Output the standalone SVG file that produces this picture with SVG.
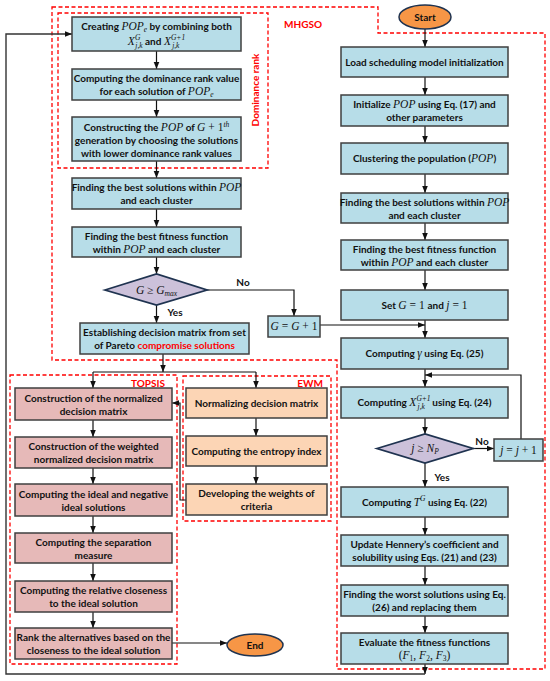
<svg xmlns="http://www.w3.org/2000/svg" width="550" height="681" viewBox="0 0 550 681">
<defs>
<marker id="a" viewBox="0 0 10 10" refX="10" refY="5" markerWidth="7" markerHeight="7" markerUnits="userSpaceOnUse" orient="auto"><path d="M0,1 L10,5 L0,9 z" fill="#111"/></marker>
<style>
.bl{fill:#b7dde8;stroke:#3f3f3f;stroke-width:1.5}
.pk{fill:#e6b9b8;stroke:#3f3f3f;stroke-width:1.5}
.or{fill:#fcd5b5;stroke:#3f3f3f;stroke-width:1.5}
.dm{fill:#ccc1da;stroke:#1f3350;stroke-width:1.8}
.el{fill:#f79646;stroke:#1f3350;stroke-width:1.5}
.dash{fill:none;stroke:#ff0000;stroke-width:1.3;stroke-dasharray:4,2.5}
.ln{fill:none;stroke:#111;stroke-width:1.2}
.t{font-family:Lato,"Liberation Sans",sans-serif;font-weight:bold;font-size:10px;fill:#111;text-anchor:middle}
.m{font-family:"Liberation Serif",serif;font-style:italic;font-weight:normal;font-size:11.5px}
.r{font-family:"Liberation Serif",serif;font-weight:normal;font-size:11.5px}
.s{font-size:7.5px}
.red{fill:#ff0000}
.lb{font-family:Lato,"Liberation Sans",sans-serif;font-weight:bold;font-size:10px;fill:#ff0000}
</style>
</defs>
<rect width="550" height="681" fill="#fff"/>

<!-- dashed regions -->
<g id="regions">
<path class="dash" d="M52,7 L378,7 L378,33 L545,33 L545,669 L337,669 L337,360 L52,360 Z"/>
<text class="lb" x="303" y="28" text-anchor="middle">MHGSO</text>
<rect class="dash" x="58" y="13" width="210" height="155"/>
<text class="lb" x="259" y="90" text-anchor="middle" transform="rotate(-90 259 90)">Dominance rank</text>
<rect class="dash" x="10" y="375" width="167" height="289"/>
<text class="lb" x="148" y="387" text-anchor="middle">TOPSIS</text>
<rect class="dash" x="183" y="376" width="148" height="145"/>
<text class="lb" x="310" y="387" text-anchor="middle">EWM</text>
</g>

<g id="connectors">
<line class="ln" x1="156.5" y1="51" x2="156.5" y2="69" marker-end="url(#a)"/>
<line class="ln" x1="156.5" y1="100" x2="156.5" y2="117" marker-end="url(#a)"/>
<line class="ln" x1="156.5" y1="161" x2="156.5" y2="178" marker-end="url(#a)"/>
<line class="ln" x1="156.5" y1="209" x2="156.5" y2="227" marker-end="url(#a)"/>
<line class="ln" x1="156.5" y1="257" x2="156.5" y2="274" marker-end="url(#a)"/>
<line class="ln" x1="156.5" y1="305" x2="156.5" y2="323" marker-end="url(#a)"/>
<polyline class="ln" points="207,290 294,290 294,316" marker-end="url(#a)"/>
<line class="ln" x1="320" y1="325" x2="425" y2="325" marker-end="url(#a)"/>
<line class="ln" x1="163" y1="354" x2="163" y2="372" marker-end="url(#a)"/>
<polyline class="ln" points="93,372 256,372"/>
<line class="ln" x1="93" y1="372" x2="93" y2="388" marker-end="url(#a)"/>
<line class="ln" x1="256" y1="372" x2="256" y2="388" marker-end="url(#a)"/>
<line class="ln" x1="93" y1="420" x2="93" y2="437" marker-end="url(#a)"/>
<line class="ln" x1="93" y1="468" x2="93" y2="484" marker-end="url(#a)"/>
<line class="ln" x1="93" y1="516" x2="93" y2="533" marker-end="url(#a)"/>
<line class="ln" x1="93" y1="563" x2="93" y2="581" marker-end="url(#a)"/>
<line class="ln" x1="93" y1="612" x2="93" y2="628" marker-end="url(#a)"/>
<line class="ln" x1="256" y1="418" x2="256" y2="436" marker-end="url(#a)"/>
<line class="ln" x1="256" y1="466" x2="256" y2="484" marker-end="url(#a)"/>
<polyline class="ln" points="186,500 180,500 180,403 172,403" marker-end="url(#a)"/>
<line class="ln" x1="172" y1="643" x2="227" y2="643" marker-end="url(#a)"/>
<line class="ln" x1="425" y1="29" x2="425" y2="47" marker-end="url(#a)"/>
<line class="ln" x1="425" y1="77" x2="425" y2="95" marker-end="url(#a)"/>
<line class="ln" x1="425" y1="126" x2="425" y2="143" marker-end="url(#a)"/>
<line class="ln" x1="425" y1="174" x2="425" y2="193" marker-end="url(#a)"/>
<line class="ln" x1="425" y1="223" x2="425" y2="240" marker-end="url(#a)"/>
<line class="ln" x1="425" y1="270" x2="425" y2="290" marker-end="url(#a)"/>
<line class="ln" x1="425" y1="320" x2="425" y2="338" marker-end="url(#a)"/>
<line class="ln" x1="425" y1="369" x2="425" y2="387" marker-end="url(#a)"/>
<polyline class="ln" points="521,439 521,375 425,375" marker-end="url(#a)"/>
<line class="ln" x1="425" y1="418" x2="425" y2="434" marker-end="url(#a)"/>
<line class="ln" x1="473" y1="448.5" x2="494" y2="448.5" marker-end="url(#a)"/>
<line class="ln" x1="425" y1="463" x2="425" y2="487" marker-end="url(#a)"/>
<line class="ln" x1="425" y1="517" x2="425" y2="535" marker-end="url(#a)"/>
<line class="ln" x1="425" y1="566" x2="425" y2="585" marker-end="url(#a)"/>
<line class="ln" x1="425" y1="616" x2="425" y2="633" marker-end="url(#a)"/>
<line class="ln" x1="425" y1="664" x2="425" y2="674" marker-end="url(#a)"/>
<polyline class="ln" points="425,674 6,674 6,34 72,34" marker-end="url(#a)" style="stroke:#333;stroke-width:1.4"/>
<text class="t" x="175" y="316">Yes</text>
<text class="t" x="243" y="286">No</text>
<text class="t" x="442" y="481">Yes</text>
<text class="t" x="482" y="445">No</text>
</g>

<!-- left column -->
<g id="n-createPOPe">
<rect class="bl" x="72" y="17" width="169" height="34"/>
<text class="t" x="156.5" y="30">Creating <tspan class="m">POP</tspan><tspan class="m s" dy="2">e</tspan><tspan dy="-2"> by combining both</tspan></text>
<text class="t" x="156.5" y="45"><tspan class="m">X</tspan><tspan class="m s" dy="-5">G</tspan><tspan class="m s" dx="-5" dy="8">j,k</tspan><tspan dy="-3"> and </tspan><tspan class="m">X</tspan><tspan class="m s" dy="-5">G+1</tspan><tspan class="m s" dx="-13" dy="8">j,k</tspan><tspan dy="-3" dx="5"> </tspan></text>
</g>
<g id="n-domrank">
<rect class="bl" x="72" y="69" width="169" height="31"/>
<text class="t" x="156.5" y="82">Computing the dominance rank value</text>
<text class="t" x="156.5" y="95">for each solution of <tspan class="m">POP</tspan><tspan class="m s" dy="2">e</tspan></text>
</g>
<g id="n-constructPOP">
<rect class="bl" x="72" y="117" width="169" height="44"/>
<text class="t" x="156.5" y="130.5">Constructing the <tspan class="m">POP</tspan> of <tspan class="m">G</tspan><tspan class="r"> + 1</tspan><tspan class="m s" dy="-4">th</tspan></text>
<text class="t" x="156.5" y="143.5">generation by choosing the solutions</text>
<text class="t" x="156.5" y="156.5">with lower dominance rank values</text>
</g>
<g id="n-bestsol-left">
<rect class="bl" x="72" y="178" width="169" height="31"/>
<text class="t" x="156.5" y="191">Finding the best solutions within <tspan class="m">POP</tspan></text>
<text class="t" x="156.5" y="204">and each cluster</text>
</g>
<g id="n-bestfit-left">
<rect class="bl" x="72" y="227" width="169" height="30"/>
<text class="t" x="156.5" y="239.5">Finding the best fitness function</text>
<text class="t" x="156.5" y="252.5">within <tspan class="m">POP</tspan> and each cluster</text>
</g>
<g id="n-Gmax">
<polygon class="dm" points="105,290 156.5,274 207,290 156.5,305"/>
<text class="t" x="156.5" y="294"><tspan class="m">G</tspan><tspan class="r"> ≥ </tspan><tspan class="m">G</tspan><tspan class="m s" dy="2">max</tspan></text>
</g>
<g id="n-Ginc">
<rect class="bl" x="268" y="316" width="52" height="21"/>
<text class="t" x="294" y="330"><tspan class="m">G</tspan><tspan class="r"> = </tspan><tspan class="m">G</tspan><tspan class="r"> + 1</tspan></text>
</g>
<g id="n-decision">
<rect class="bl" x="80" y="323" width="169" height="31"/>
<text class="t" x="164.5" y="336">Establishing decision matrix from set</text>
<text class="t" x="164.5" y="349">of Pareto <tspan class="red">compromise solutions</tspan></text>
</g>

<!-- TOPSIS -->
<g id="n-t1"><rect class="pk" x="15" y="388" width="157" height="32"/>
<text class="t" x="93.5" y="401.5">Construction of the normalized</text><text class="t" x="93.5" y="414.5">decision matrix</text></g>
<g id="n-t2"><rect class="pk" x="15" y="437" width="157" height="31"/>
<text class="t" x="93.5" y="450">Construction of the weighted</text><text class="t" x="93.5" y="463">normalized decision matrix</text></g>
<g id="n-t3"><rect class="pk" x="15" y="484" width="157" height="32"/>
<text class="t" x="93.5" y="497.5">Computing the ideal and negative</text><text class="t" x="93.5" y="510.5">ideal solutions</text></g>
<g id="n-t4"><rect class="pk" x="15" y="533" width="157" height="30"/>
<text class="t" x="93.5" y="545.5">Computing the separation</text><text class="t" x="93.5" y="558.5">measure</text></g>
<g id="n-t5"><rect class="pk" x="15" y="581" width="157" height="31"/>
<text class="t" x="93.5" y="594">Computing the relative closeness</text><text class="t" x="93.5" y="607">to the ideal solution</text></g>
<g id="n-t6"><rect class="pk" x="15" y="628" width="157" height="31"/>
<text class="t" x="93.5" y="641">Rank the alternatives based on the</text><text class="t" x="93.5" y="654">closeness to the ideal solution</text></g>

<!-- EWM -->
<g id="n-e1"><rect class="or" x="186" y="388" width="141" height="30"/>
<text class="t" x="256.5" y="406.5">Normalizing decision matrix</text></g>
<g id="n-e2"><rect class="or" x="186" y="436" width="141" height="30"/>
<text class="t" x="256.5" y="454.5">Computing the entropy index</text></g>
<g id="n-e3"><rect class="or" x="186" y="484" width="141" height="31"/>
<text class="t" x="256.5" y="497">Developing the weights of</text><text class="t" x="256.5" y="510">criteria</text></g>

<g id="n-end"><ellipse class="el" cx="255" cy="645" rx="28" ry="11"/>
<text class="t" x="255" y="648.5">End</text></g>

<!-- right column -->
<g id="n-start"><ellipse class="el" cx="425" cy="17" rx="26" ry="12"/>
<text class="t" x="425" y="20.5">Start</text></g>
<g id="n-load"><rect class="bl" x="341" y="47" width="167" height="30"/>
<text class="t" x="424.5" y="65.5">Load scheduling model initialization</text></g>
<g id="n-init"><rect class="bl" x="341" y="95" width="167" height="31"/>
<text class="t" x="424.5" y="108">Initialize <tspan class="m">POP</tspan> using Eq. (17) and</text>
<text class="t" x="424.5" y="121">other parameters</text></g>
<g id="n-cluster"><rect class="bl" x="341" y="143" width="167" height="31"/>
<text class="t" x="424.5" y="162">Clustering the population (<tspan class="m">POP</tspan>)</text></g>
<g id="n-bestsol-right"><rect class="bl" x="341" y="193" width="167" height="30"/>
<text class="t" x="424.5" y="205.5">Finding the best solutions within <tspan class="m">POP</tspan></text>
<text class="t" x="424.5" y="218.5">and each cluster</text></g>
<g id="n-bestfit-right"><rect class="bl" x="341" y="240" width="167" height="30"/>
<text class="t" x="424.5" y="252.5">Finding the best fitness function</text>
<text class="t" x="424.5" y="265.5">within <tspan class="m">POP</tspan> and each cluster</text></g>
<g id="n-set"><rect class="bl" x="341" y="290" width="167" height="30"/>
<text class="t" x="424.5" y="308.5">Set <tspan class="m">G</tspan><tspan class="r"> = 1 </tspan>and <tspan class="m">j</tspan><tspan class="r"> = 1</tspan></text></g>
<g id="n-gamma"><rect class="bl" x="341" y="338" width="167" height="31"/>
<text class="t" x="424.5" y="357">Computing <tspan class="m">γ</tspan> using Eq. (25)</text></g>
<g id="n-X"><rect class="bl" x="341" y="387" width="167" height="31"/>
<text class="t" x="424.5" y="406">Computing <tspan class="m">X</tspan><tspan class="m s" dy="-5">G+1</tspan><tspan class="m s" dx="-13" dy="8">j,k</tspan><tspan dy="-3" dx="5"> using Eq. (24)</tspan></text></g>
<g id="n-jNP"><polygon class="dm" points="377,448.5 425,434 473,448.5 425,463"/>
<text class="t" x="425" y="452"><tspan class="m">j</tspan><tspan class="r"> ≥ </tspan><tspan class="m">N</tspan><tspan class="m s" dy="2">P</tspan></text></g>
<g id="n-jinc"><rect class="bl" x="494" y="439" width="49" height="22"/>
<text class="t" x="518.5" y="454"><tspan class="m">j</tspan><tspan class="r"> = </tspan><tspan class="m">j</tspan><tspan class="r"> + 1</tspan></text></g>
<g id="n-TG"><rect class="bl" x="341" y="487" width="167" height="30"/>
<text class="t" x="424.5" y="505.5">Computing <tspan class="m">T</tspan><tspan class="m s" dy="-5">G</tspan><tspan dy="5"> using Eq. (22)</tspan></text></g>
<g id="n-update"><rect class="bl" x="341" y="535" width="167" height="31"/>
<text class="t" x="424.5" y="548">Update Hennery’s coefficient and</text>
<text class="t" x="424.5" y="561">solubility using Eqs. (21) and (23)</text></g>
<g id="n-worst"><rect class="bl" x="341" y="585" width="167" height="31"/>
<text class="t" x="424.5" y="598">Finding the worst solutions using Eq.</text>
<text class="t" x="424.5" y="611">(26) and replacing them</text></g>
<g id="n-eval"><rect class="bl" x="341" y="633" width="167" height="31"/>
<text class="t" x="424.5" y="646">Evaluate the fitness functions</text>
<text class="t" x="424.5" y="659"><tspan class="r">(</tspan><tspan class="m">F</tspan><tspan class="r s" dy="2">1</tspan><tspan class="r" dy="-2">, </tspan><tspan class="m">F</tspan><tspan class="r s" dy="2">2</tspan><tspan class="r" dy="-2">, </tspan><tspan class="m">F</tspan><tspan class="r s" dy="2">3</tspan><tspan class="r" dy="-2">)</tspan></text></g>
</svg>
